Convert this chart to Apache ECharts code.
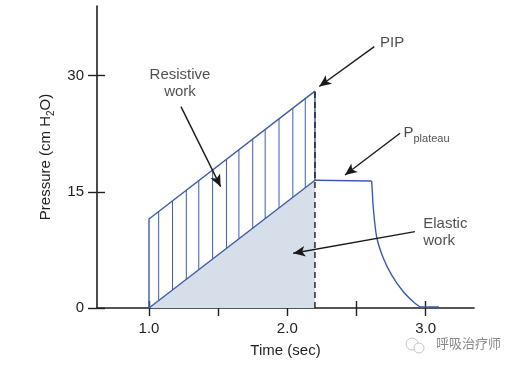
<!DOCTYPE html>
<html><head><meta charset="utf-8">
<script src="https://cdn.jsdelivr.net/npm/echarts@6/dist/echarts.min.js"></script>
<style>html,body{margin:0;padding:0;background:#fff}#c{width:512px;height:370px}</style>
</head><body><div id="c"></div>
<script>
// ---- data ----
const xTicks = [1.0, 1.5, 2.0, 2.5, 3.0];
const xTickLabels = [1.0, 2.0, 3.0];
const yTicks = [0, 15, 30];

const inspTop = [[1.0, 0], [1.0, 11.5], [2.2, 28]];          // resistive outline (PIP at 2.2 s)
const elasticLine = [[1.0, 0], [2.2, 16.5]];                  // elastic pressure rise
const pipEdge = [[2.2, 16.5], [2.2, 28]];
const dashedLine = [[2.2, 0], [2.2, 28]];
const plateau = [[2.2, 16.5], [2.61, 16.4]];
const decay = [[2.61, 16.4], [2.616, 14.6], [2.622, 12.9], [2.646, 9.2], [2.694, 6.45],
               [2.755, 4.25], [2.839, 2.1], [2.923, 0.6], [2.96, 0.13]];
const tail = [[2.96, 0.13], [3.097, 0.13]];
const hatchX = [1.07, 1.17, 1.27, 1.36, 1.46, 1.56, 1.65, 1.75, 1.84, 1.94, 2.04, 2.13];

const arrowFrom = [[1.231, 26.0], [2.629, 33.76], [2.815, 22.57], [2.923, 9.86]];
const arrowTo   = [[1.518, 15.67], [2.231, 28.6], [2.417, 17.18], [2.043, 7.07]];
const noteText  = ['Resistive\nwork', 'PIP', '{p|P}{s|plateau}', 'Elastic\nwork'];
const notePos   = [[1.224, 29.0], [2.67, 34.2], [2.84, 22.6], [2.983, 9.75]];
const noteAlign = ['center', 'left', 'left', 'left'];

// ---- chart ----
const BLUE = '#3b5ca8';
const INK = '#1f1f1f';
const FONT = 'Liberation Sans, Arial, Helvetica, sans-serif';
const X_MIN = 0.624, X_MAX = 3.35, Y_MIN = 0, Y_MAX = 39;

function lerp(seg, x) {
  const a = seg[0], b = seg[1];
  return a[1] + (b[1] - a[1]) * (x - a[0]) / (b[0] - a[0]);
}

const chart = echarts.init(document.getElementById('c'), null, {renderer: 'canvas'});

const baseX = {
  type: 'value', min: X_MIN, max: X_MAX, position: 'bottom',
  splitLine: {show: false}
};
const baseY = {
  type: 'value', min: Y_MIN, max: Y_MAX, position: 'left',
  splitLine: {show: false}
};

chart.setOption({
  animation: false,
  backgroundColor: '#fff',
  grid: {left: 97, right: 38, top: 6, bottom: 62},
  xAxis: [
    Object.assign({}, baseX, {
      name: 'Time (sec)', nameLocation: 'middle', nameGap: 35,
      nameTextStyle: {fontSize: 15, color: INK, fontFamily: FONT},
      axisLine: {show: true, onZero: false, lineStyle: {color: INK, width: 1.6}},
      axisTick: {show: true, length: 8, customValues: xTicks, lineStyle: {color: INK, width: 1.4}},
      axisLabel: {show: true, margin: 13, customValues: xTickLabels, fontSize: 15, color: INK,
                  fontFamily: FONT, formatter: v => v.toFixed(1)}
    }),
    Object.assign({}, baseX, {
      axisLine: {show: false},
      axisTick: {show: true, inside: true, length: 7, customValues: xTicks, lineStyle: {color: INK, width: 1.4}},
      axisLabel: {show: false}
    })
  ],
  yAxis: [
    Object.assign({}, baseY, {
      name: '{a|Pressure (cm H}{b|2}{a|O)}', nameLocation: 'middle', nameGap: 40,
      nameTextStyle: {color: INK, fontFamily: FONT,
        rich: {a: {fontSize: 15, color: INK, fontFamily: FONT, lineHeight: 22, verticalAlign: 'middle'},
               b: {fontSize: 10, color: INK, fontFamily: FONT, lineHeight: 22, verticalAlign: 'bottom'}}},
      axisLine: {show: true, onZero: false, lineStyle: {color: INK, width: 1.6}},
      axisTick: {show: true, length: 9, customValues: yTicks, lineStyle: {color: INK, width: 1.4}},
      axisLabel: {show: true, margin: 13, customValues: yTicks, fontSize: 15, color: INK, fontFamily: FONT}
    }),
    Object.assign({}, baseY, {
      axisLine: {show: false},
      axisTick: {show: true, inside: true, length: 8, customValues: yTicks, lineStyle: {color: INK, width: 1.4}},
      axisLabel: {show: false}
    })
  ],
  series: [
    { // elastic work area
      type: 'line', data: elasticLine, symbol: 'none', z: 2,
      lineStyle: {color: BLUE, width: 1.4},
      areaStyle: {color: '#d6deea', opacity: 1}
    },
    { // hatching of resistive work
      type: 'custom', z: 3, silent: true,
      data: hatchX.map(x => [x, lerp(elasticLine, x), lerp([inspTop[1], inspTop[2]], x)]),
      renderItem: function (params, api) {
        const p1 = api.coord([api.value(0), api.value(1)]);
        const p2 = api.coord([api.value(0), api.value(2)]);
        return {type: 'line', shape: {x1: p1[0], y1: p1[1], x2: p2[0], y2: p2[1]},
                style: {stroke: BLUE, lineWidth: 1}};
      }
    },
    {type: 'line', data: inspTop, symbol: 'none', z: 4, lineStyle: {color: BLUE, width: 1.4}},
    {type: 'line', data: pipEdge, symbol: 'none', z: 4, lineStyle: {color: BLUE, width: 1.4}},
    {type: 'line', data: dashedLine, symbol: 'none', z: 5,
     lineStyle: {color: '#1a1a1a', width: 1.4, type: [6, 4]}},
    {type: 'line', data: plateau, symbol: 'none', z: 4, lineStyle: {color: BLUE, width: 1.4}},
    {type: 'line', data: decay, symbol: 'none', z: 4, smooth: 0.3,
     lineStyle: {color: BLUE, width: 1.4}},
    {type: 'line', data: tail, symbol: 'none', z: 4, lineStyle: {color: BLUE, width: 1.4}},
    { // annotation arrows
      type: 'line', data: [], z: 6,
      markLine: {
        silent: true, symbol: ['none', 'arrow'], symbolSize: [8, 12],
        label: {show: false}, emphasis: {disabled: true},
        lineStyle: {color: '#1a1a1a', width: 1.4, type: 'solid'},
        data: arrowFrom.map((f, i) => [{coord: f}, {coord: arrowTo[i]}])
      }
    },
    { // annotation texts
      type: 'scatter', symbolSize: 0, z: 7, silent: true,
      data: notePos.map((p, i) => ({
        value: p,
        label: {show: true, position: 'inside', formatter: noteText[i], align: noteAlign[i],
                verticalAlign: 'middle', fontSize: 15, lineHeight: 17.5, color: INK, fontFamily: FONT,
                rich: {p: {fontSize: 15, color: INK, fontFamily: FONT, lineHeight: 22, verticalAlign: 'middle'},
                       s: {fontSize: 11, color: INK, fontFamily: FONT, lineHeight: 22, verticalAlign: 'bottom'}}}
      }))
    }
  ],
  graphic: [
    {type: 'circle', shape: {cx: 412, cy: 344, r: 6}, style: {fill: 'none', stroke: '#c4c4c4', lineWidth: 1}},
    {type: 'circle', shape: {cx: 419, cy: 348, r: 5}, style: {fill: '#fff', stroke: '#c4c4c4', lineWidth: 1}},
    {type: 'text', left: 436, top: 337,
     style: {text: '呼吸治疗师', fontSize: 13, fill: '#8a8a8a', fontFamily: 'Noto Sans CJK SC'}}
  ]
});
</script>
</body></html>
